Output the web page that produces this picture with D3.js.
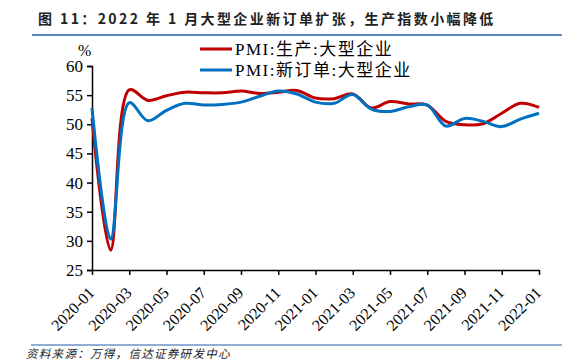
<!DOCTYPE html>
<html>
<head>
<meta charset="utf-8">
<script src="https://cdn.jsdelivr.net/npm/d3@7"></script>
<style>
  body { margin: 0; background: #fff; }
  svg { display: block; }
</style>
</head>
<body>
<div id="chart"></div>
<script>
// monthly data, 2020-01 .. 2022-01
const months = [
    '2020-01', '2020-02', '2020-03', '2020-04', '2020-05', '2020-06', '2020-07',
    '2020-08', '2020-09', '2020-10', '2020-11', '2020-12', '2021-01', '2021-02',
    '2021-03', '2021-04', '2021-05', '2021-06', '2021-07', '2021-08', '2021-09',
    '2021-10', '2021-11', '2021-12', '2022-01'
];
const production = [
    51.0, 28.4, 55.9, 54.1, 54.9, 55.5, 55.4, 55.4, 55.7, 55.3, 55.5, 55.8, 54.5,
    54.4, 55.2, 52.8, 53.9, 53.5, 53.3, 50.5, 49.9, 50.1, 51.9, 53.6, 52.9
];
const newOrders = [
    52.8, 30.3, 53.7, 50.6, 52.4, 53.6, 53.3, 53.4, 53.8, 54.8, 55.7, 55.2, 53.8,
    53.6, 55.1, 52.6, 52.2, 53.0, 53.3, 49.7, 51.0, 50.5, 49.6, 50.9, 51.9
];
const yTicks = [25, 30, 35, 40, 45, 50, 55, 60];
const seriesNames = ['PMI:生产:大型企业', 'PMI:新订单:大型企业'];
const seriesColors = ['#c00000', '#0070c0'];

const width = 578, height = 361;
const plot = { left: 92, right: 539, top: 66, bottom: 270 };
const serif = '"Liberation Serif", "Times New Roman", "Noto Sans CJK SC", serif';

const svg = d3.select('#chart').append('svg')
    .attr('width', width)
    .attr('height', height);

// title and frame lines
svg.append('text')
    .attr('x', 38)
    .attr('y', 24)
    .attr('font-family', '"Noto Sans CJK SC", sans-serif')
    .attr('font-size', 14)
    .attr('font-weight', 'bold')
    .attr('letter-spacing', 2.4)
    .attr('fill', '#222')
    .text('图 11：2022 年 1 月大型企业新订单扩张，生产指数小幅降低');

svg.append('line')
    .attr('x1', 32).attr('x2', 562)
    .attr('y1', 35).attr('y2', 35)
    .attr('stroke', '#1f5fa8').attr('stroke-width', 1.5);

svg.append('line')
    .attr('x1', 31).attr('x2', 562)
    .attr('y1', 345).attr('y2', 345)
    .attr('stroke', '#1f5fa8').attr('stroke-width', 1.2);

svg.append('text')
    .attr('x', 26)
    .attr('y', 358)
    .attr('font-family', '"Noto Sans CJK SC", sans-serif')
    .attr('font-size', 11.5)
    .attr('font-style', 'italic')
    .attr('letter-spacing', 1.3)
    .attr('fill', '#222')
    .text('资料来源：万得，信达证券研发中心');

// scales
const x = d3.scalePoint().domain(months).range([plot.left, plot.right]);
const y = d3.scaleLinear().domain([25, 60]).range([plot.bottom, plot.top]);

// y axis
const yAxis = svg.append('g')
    .attr('transform', `translate(${plot.left},0)`)
    .call(d3.axisLeft(y).tickValues(yTicks).tickSize(5).tickPadding(4));
yAxis.select('.domain').attr('stroke', '#000').attr('stroke-width', 1.5);
yAxis.selectAll('.tick line').attr('stroke', '#000').attr('stroke-width', 1.5);
yAxis.selectAll('.tick text')
    .attr('font-family', serif)
    .attr('font-size', 17)
    .attr('fill', '#000');

svg.append('text')
    .attr('x', 78)
    .attr('y', 56)
    .attr('font-family', serif)
    .attr('font-size', 16)
    .text('%');

// x axis
const xAxis = svg.append('g')
    .attr('transform', `translate(0,${plot.bottom})`)
    .call(d3.axisBottom(x)
        .tickValues(months.filter((d, i) => i % 2 === 0))
        .tickSize(5)
        .tickSizeOuter(0));
xAxis.select('.domain').attr('stroke', '#000').attr('stroke-width', 1.5);
xAxis.selectAll('.tick line').attr('stroke', '#000').attr('stroke-width', 1.5);
xAxis.selectAll('.tick text')
    .attr('font-family', serif)
    .attr('font-size', 16)
    .attr('fill', '#000')
    .attr('text-anchor', 'end')
    .attr('x', 0)
    .attr('y', 0)
    .attr('dy', '0.35em')
    .attr('transform', 'translate(-1,20) rotate(-45)');

// lines
const line = d3.line()
    .x((d, i) => x(months[i]))
    .y(d => y(d))
    .curve(d3.curveCatmullRom.alpha(0.5));

[production, newOrders].forEach((values, i) => {
    svg.append('path')
        .datum(values)
        .attr('fill', 'none')
        .attr('stroke', seriesColors[i])
        .attr('stroke-width', 3)
        .attr('d', line);
});

// legend
seriesNames.forEach((name, i) => {
    const ly = 49 + i * 21;
    svg.append('line')
        .attr('x1', 200).attr('x2', 232)
        .attr('y1', ly).attr('y2', ly)
        .attr('stroke', seriesColors[i])
        .attr('stroke-width', 3);
    svg.append('text')
        .attr('x', 235)
        .attr('y', ly + 6)
        .attr('font-family', serif)
        .attr('font-size', 17)
        .attr('letter-spacing', 1.5)
        .attr('fill', '#000')
        .text(name);
});
</script>
</body>
</html>
